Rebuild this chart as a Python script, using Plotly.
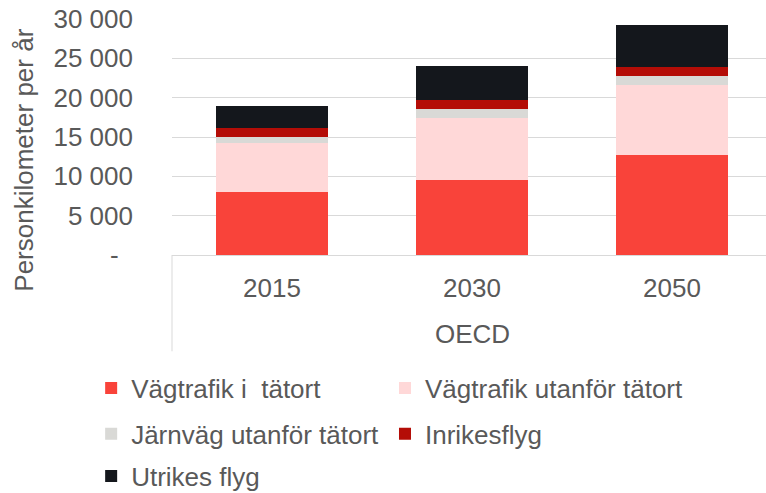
import plotly.graph_objects as go

# Passenger-kilometres per year in OECD countries, by mode of transport
years = ["2015", "2030", "2050"]
region = "OECD"

vag_tatort = [8000, 9500, 12750]          # Vägtrafik i tätort
vag_utanfor = [6200, 7950, 8850]          # Vägtrafik utanför tätort
jarnvag_utanfor = [850, 1100, 1100]       # Järnväg utanför tätort
inrikesflyg = [1150, 1200, 1200]          # Inrikesflyg
utrikesflyg = [2750, 4300, 5350]          # Utrikes flyg

# (name, values, colour, legend slot)
series = [
    ("Vägtrafik i  tätort", vag_tatort, "#F9433A", "legend"),
    ("Vägtrafik utanför tätort", vag_utanfor, "#FFD8D8", "legend2"),
    ("Järnväg utanför tätort", jarnvag_utanfor, "#D9D9D6", "legend3"),
    ("Inrikesflyg", inrikesflyg, "#B40D07", "legend4"),
    ("Utrikes flyg", utrikesflyg, "#14171C", "legend5"),
]

y_ticks = [0, 5000, 10000, 15000, 20000, 25000, 30000]
y_ticktext = ["-\u00a0\u00a0"] + [f"{v:,}".replace(",", " ") for v in y_ticks[1:]]

FONT = "Liberation Sans, Arial, sans-serif"
TEXT = "#595959"
GRID = "#D9D9D9"

fig = go.Figure()
for name, vals, color, leg in series:
    fig.add_trace(go.Bar(
        x=years, y=vals, name=name, legend=leg,
        marker=dict(color=color, line=dict(width=0)),
    ))

# legend grid: two columns, three rows (centre positions in figure fractions)
COL_X = [0.119, 0.5026]
ROW_Y = [0.213, 0.120, 0.0345]


def legend_slot(col, row):
    return dict(
        orientation="h",
        xref="container", yref="container",
        x=COL_X[col], y=ROW_Y[row], xanchor="left", yanchor="middle",
        font=dict(family=FONT, size=26, color=TEXT),
        bgcolor="rgba(0,0,0,0)",
    )


fig.update_layout(
    width=766, height=493, autosize=False,
    margin=dict(l=172, r=0, t=19, b=238, autoexpand=False),
    paper_bgcolor="white", plot_bgcolor="white",
    barmode="stack", bargap=0.44,
    font=dict(family=FONT, size=26, color=TEXT),
    showlegend=True,
    legend=legend_slot(0, 0),
    legend2=legend_slot(1, 0),
    legend3=legend_slot(0, 1),
    legend4=legend_slot(1, 1),
    legend5=legend_slot(0, 2),
    xaxis=dict(
        type="category", range=[-0.5, 2.47],
        showgrid=False, showline=True, linecolor=GRID, linewidth=1,
        ticks="", ticklabelstandoff=10,
        tickfont=dict(family=FONT, size=26, color=TEXT),
    ),
    yaxis=dict(
        range=[0, 30000], tickvals=y_ticks, ticktext=y_ticktext,
        showgrid=True, gridcolor=GRID, gridwidth=1,
        zeroline=False, showline=False, ticks="",
        ticklabelstandoff=38,
        tickfont=dict(family=FONT, size=26, color=TEXT),
    ),
    annotations=[
        dict(text=region, x=1, xref="x", y=-0.336, yref="paper",
             xanchor="center", yanchor="middle", showarrow=False,
             font=dict(family=FONT, size=26, color=TEXT)),
        dict(text="Personkilometer per år", textangle=-90,
             x=-0.249, xref="paper", y=0.40, yref="paper",
             xanchor="center", yanchor="middle", showarrow=False,
             font=dict(family=FONT, size=26, color=TEXT)),
    ],
    shapes=[
        dict(type="line", xref="paper", yref="paper",
             x0=0, x1=0, y0=0, y1=-0.408,
             line=dict(color=GRID, width=1)),
    ],
)

fig.write_html("out.html")
